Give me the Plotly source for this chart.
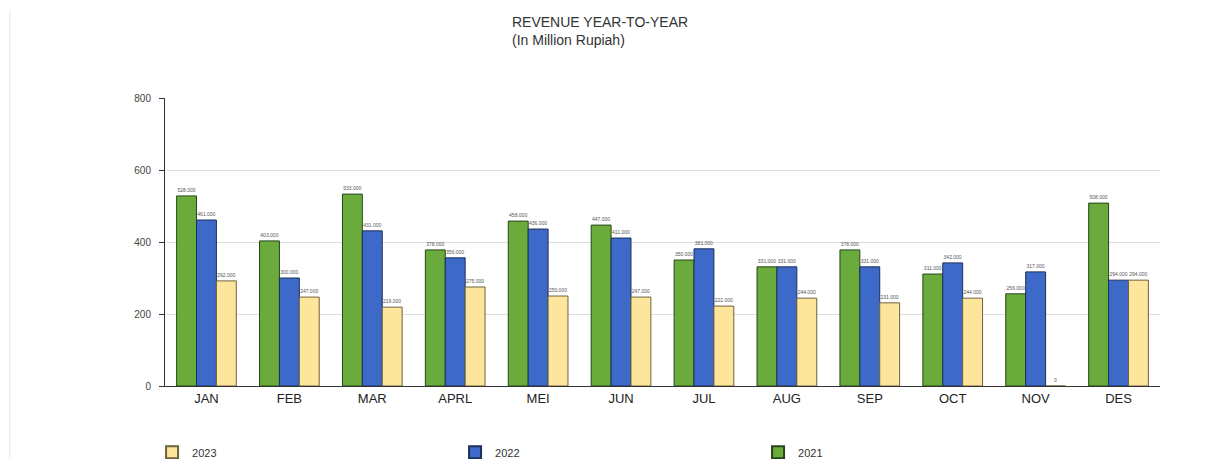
import plotly.graph_objects as go

months = ["JAN", "FEB", "MAR", "APRL", "MEI", "JUN", "JUL", "AUG", "SEP", "OCT", "NOV", "DES"]
rev_2021 = [528, 403, 533, 378, 458, 447, 350, 331, 378, 311, 256, 508]
rev_2022 = [461, 300, 431, 356, 436, 411, 381, 331, 331, 342, 317, 294]
rev_2023 = [292, 247, 219, 275, 250, 247, 222, 244, 231, 244, 0, 294]
y_ticks = [0, 200, 400, 600, 800]

series = [
    ("2021", rev_2021, "#6aab3c", "#24461a"),
    ("2022", rev_2022, "#3d6ac9", "#1c2f58"),
    ("2023", rev_2023, "#fde59b", "#6f6240"),
]

fig = go.Figure()
for name, vals, col, edge in series:
    fig.add_trace(go.Bar(
        x=months, y=vals, name=name,
        marker=dict(color=col, line=dict(color=edge, width=1)),
        text=[f"{v:.3f}" if v else "0" for v in vals],
        textposition="outside",
        textfont=dict(size=5, color="#555555"),
        cliponaxis=False,
    ))

fig.update_layout(
    width=1225, height=459,
    margin=dict(l=165, r=65, t=98, b=73, autoexpand=False),
    paper_bgcolor="white", plot_bgcolor="white",
    barmode="group", bargap=0.28, bargroupgap=0.0,
    font=dict(family="Liberation Sans, Arial, sans-serif", color="#333333"),
    showlegend=True,
    legend=dict(
        orientation="h", traceorder="reversed",
        x=-0.013, xanchor="left", y=-0.23, yanchor="middle",
        entrywidth=258, entrywidthmode="pixels",
        font=dict(size=11, color="#333333"),
        itemsizing="constant",
    ),
    uniformtext=dict(minsize=5, mode="show"),
)
fig.add_annotation(
    text="REVENUE YEAR-TO-YEAR<br>(In Million Rupiah)",
    xref="paper", yref="paper", x=0.347, y=1.30,
    xanchor="left", yanchor="top", align="left", showarrow=False,
    font=dict(size=14, color="#333333"),
)
fig.update_yaxes(
    range=[0, 800], tickvals=y_ticks,
    showgrid=True, gridcolor="#dddddd", gridwidth=1,
    showline=True, linecolor="#333333", linewidth=1,
    ticks="outside", ticklen=5, tickcolor="#333333",
    ticklabelstandoff=6,
    tickfont=dict(size=10, color="#444444"),
    zeroline=False,
)
fig.update_xaxes(
    showline=True, linecolor="#333333", linewidth=1,
    ticks="", tickfont=dict(size=13, color="#222222"),
)
fig.add_shape(type="line", xref="paper", yref="paper",
              x0=-0.156, x1=-0.156, y0=-0.3, y1=1.3,
              line=dict(color="#e6e6e6", width=1))

fig.write_html("out.html")
